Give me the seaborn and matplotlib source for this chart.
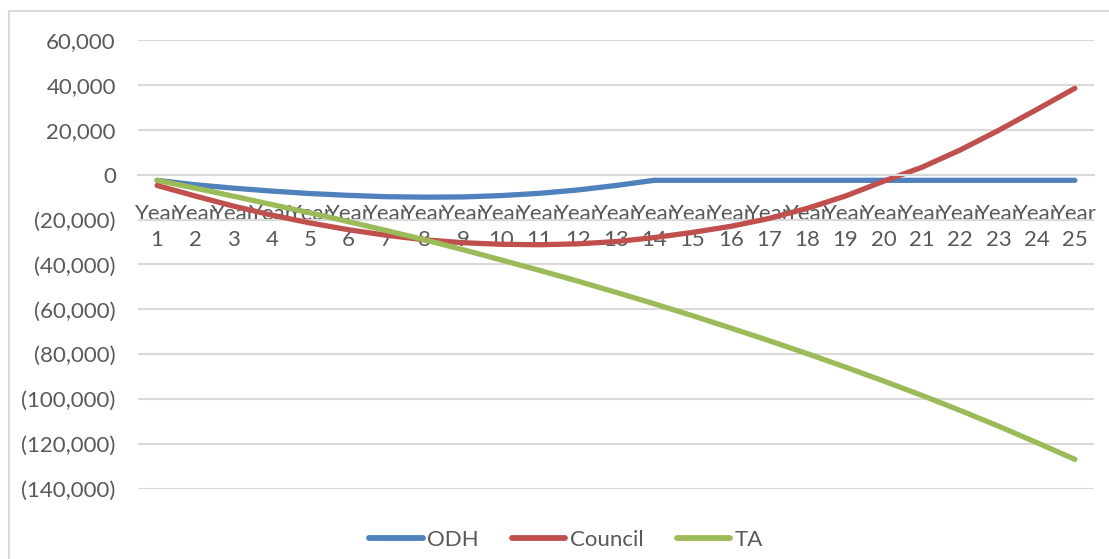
import matplotlib
matplotlib.use('Agg')
import matplotlib.pyplot as plt
import matplotlib.patches as mpatches
from matplotlib.ticker import FuncFormatter
import pandas as pd
import seaborn as sns

# Data
years = [f"Year\n{i}" for i in range(1, 26)]
odh = [-2500, -4500, -6000, -7300, -8400, -9200, -9800, -10000, -9900, -9300,
       -8300, -6800, -4800, -2500, -2500, -2500, -2500, -2500, -2500, -2500,
       -2500, -2500, -2500, -2500, -2500]
council = [-4800, -9500, -14000, -18000, -21500, -24500, -27000, -29000, -30300, -31000,
           -31200, -30800, -29800, -28000, -25700, -23000, -19500, -15000, -9500, -2900,
           3300, 11000, 19700, 29000, 38500]
ta = [-2500, -6000, -9600, -13300, -17000, -20900, -24900, -29000, -33400, -38000,
      -42600, -47400, -52400, -57500, -62800, -68300, -73900, -79700, -85700, -91900,
      -98300, -105000, -112000, -119300, -126800]
series_names = ['ODH', 'Council', 'TA']
colors = ['#4F81BD', '#C0504D', '#9BBB59']

df = pd.DataFrame({'Year': years, 'ODH': odh, 'Council': council, 'TA': ta})
long_df = df.melt(id_vars='Year', var_name='Series', value_name='Value')

sns.set_style('white')
plt.rcParams['font.family'] = ['Lato', 'DejaVu Sans']
text_color = '#595959'
grid_color = '#D9D9D9'

fig = plt.figure(figsize=(11.09, 5.59), dpi=100)
ax = fig.add_axes([138 / 1109, 1 - 489 / 559, (1094 - 138) / 1109, (489 - 40) / 559])

# chart area border (Excel style)
fig.patches.append(mpatches.Rectangle((9 / 1109, -0.05), 1.2, 1 - 11 / 559 + 0.05,
                                      transform=fig.transFigure, fill=False,
                                      edgecolor=grid_color, linewidth=1.5))

sns.lineplot(data=long_df, x='Year', y='Value', hue='Series', hue_order=series_names,
             palette=colors, linewidth=3.8, sort=False, ax=ax, legend=True)
for line in ax.lines:
    line.set_solid_capstyle('round')

ax.set_ylim(-140000, 60000)
ax.set_xlim(-0.5, len(years) - 0.5)
ax.set_yticks(range(-140000, 60001, 20000))
ax.yaxis.set_major_formatter(FuncFormatter(
    lambda v, p: '0' if v == 0 else (f"({abs(v):,.0f})" if v < 0 else f"{v:,.0f}")))
ax.grid(axis='y', color=grid_color, linewidth=1.5)
ax.set_axisbelow(True)
for s in ['top', 'right', 'left']:
    ax.spines[s].set_visible(False)
ax.spines['bottom'].set_position(('data', 0))
ax.spines['bottom'].set_color(grid_color)
ax.spines['bottom'].set_linewidth(1.5)
ax.set_xlabel('')
ax.set_ylabel('')
ax.tick_params(axis='y', length=0, pad=16, labelsize=16, labelcolor=text_color)
ax.tick_params(axis='x', length=0, pad=21, labelsize=16, labelcolor=text_color)
for lbl in ax.get_xticklabels():
    lbl.set_linespacing(1.4)

handles, labels = ax.get_legend_handles_labels()
leg = ax.legend(handles, labels, loc='center', bbox_to_anchor=(566 / 1109, 1 - 540 / 559),
                bbox_transform=fig.transFigure, ncol=3, frameon=False, fontsize=16,
                handlelength=2.4, handletextpad=0.2, columnspacing=1.5)
for t in leg.get_texts():
    t.set_color(text_color)
for h in leg.get_lines():
    h.set_linewidth(4.2)
    h.set_solid_capstyle('round')

fig.savefig('out.png', dpi=100)
